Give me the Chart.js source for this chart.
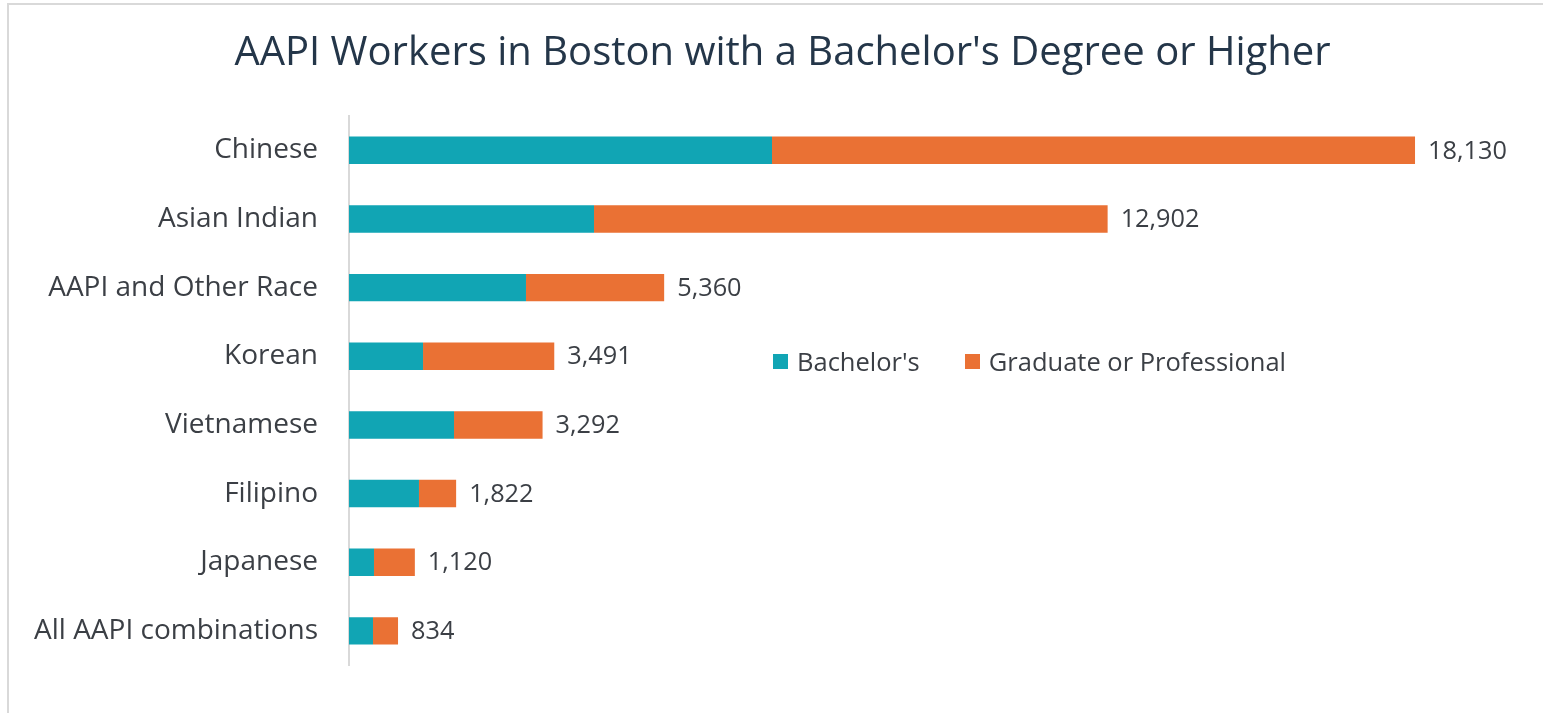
<!DOCTYPE html>
<html>
<head>
<meta charset="utf-8">
<script src="https://cdn.jsdelivr.net/npm/chart.js@4.4.1/dist/chart.umd.min.js"></script>
<style>
  html, body { margin: 0; padding: 0; background: #fff; overflow: hidden; }
  #frame {
    position: absolute; left: 7px; top: 3px; width: 1600px; height: 800px;
    border: 2px solid #d9d9d9; box-sizing: border-box;
  }
  #wrap { position: absolute; left: 0; top: 0; width: 1560px; height: 713px; }
  #legend {
    position: absolute; top: 344px; left: 773px;
    font-family: 'Open Sans', sans-serif; font-size: 25.5px; color: #3b3f45;
    display: flex; align-items: center; white-space: nowrap;
  }
  .item { display: flex; align-items: center; margin-right: 45px; }
  .box { width: 15px; height: 15px; margin-right: 9px; }
</style>
</head>
<body>
<div id="frame"></div>
<div id="wrap"><canvas id="canvas" width="1560" height="713"></canvas></div>
<div id="legend"></div>
<script>
// Categories and series values
var categories = ['Chinese', 'Asian Indian', 'AAPI and Other Race', 'Korean', 'Vietnamese', 'Filipino', 'Japanese', 'All AAPI combinations'];
var bachelors = [7194, 4167, 3010, 1259, 1786, 1190, 425, 408];
var graduate = [10936, 8735, 2350, 2232, 1506, 632, 695, 426];
var totals = [18130, 12902, 5360, 3491, 3292, 1822, 1120, 834];
var seriesNames = ["Bachelor's", 'Graduate or Professional'];
var barColors = ['#11a5b4', '#ea7134'];

// Build the legend as plain html
var legend = document.getElementById('legend');
seriesNames.forEach(function (name, i) {
    var item = document.createElement('div');
    item.className = 'item';
    var box = document.createElement('div');
    box.className = 'box';
    box.style.background = barColors[i];
    var txt = document.createElement('span');
    txt.textContent = name;
    item.appendChild(box);
    item.appendChild(txt);
    legend.appendChild(item);
});

// Draw the total next to the end of each bar
var totalLabels = {
    id: 'totalLabels',
    afterDatasetsDraw: function (chart) {
        var ctx = chart.ctx;
        var xs = chart.scales.x;
        var ys = chart.scales.y;
        ctx.save();
        ctx.font = '25.3px "Open Sans"';
        ctx.fillStyle = '#3b3f45';
        ctx.textAlign = 'left';
        ctx.textBaseline = 'middle';
        totals.forEach(function (t, i) {
            ctx.fillText(t.toLocaleString('en-US'), xs.getPixelForValue(t) + 13, ys.getPixelForValue(i) + 1);
        });
        ctx.restore();
    }
};

var ctx = document.getElementById('canvas').getContext('2d');
var chart = new Chart(ctx, {
    type: 'bar',
    data: {
        labels: categories,
        datasets: [
            { label: seriesNames[0], data: bachelors, backgroundColor: barColors[0] },
            { label: seriesNames[1], data: graduate, backgroundColor: barColors[1] }
        ]
    },
    options: {
        indexAxis: 'y',
        responsive: false,
        animation: false,
        layout: { padding: { left: 16.5, right: 11.5, top: 0, bottom: 39 } },
        datasets: { bar: { categoryPercentage: 0.8, barPercentage: 0.5 } },
        scales: {
            x: { stacked: true, display: false, min: 0, max: 20400 },
            y: {
                stacked: true,
                afterFit: function (scale) { scale.width = 332.5; },
                grid: { display: false, drawTicks: false },
                border: { display: true, color: '#d9d9d9', width: 2 },
                ticks: {
                    padding: 31,
                    color: '#3b3f45',
                    font: { family: 'Open Sans', size: 28 }
                }
            }
        },
        plugins: {
            legend: { display: false },
            tooltip: { enabled: false },
            title: {
                display: true,
                text: "AAPI Workers in Boston with a Bachelor's Degree or Higher",
                color: '#243649',
                font: { family: 'Open Sans', size: 40, weight: 'normal' },
                padding: { top: 30, bottom: 38 }
            }
        }
    },
    plugins: [totalLabels]
});
</script>
</body>
</html>
